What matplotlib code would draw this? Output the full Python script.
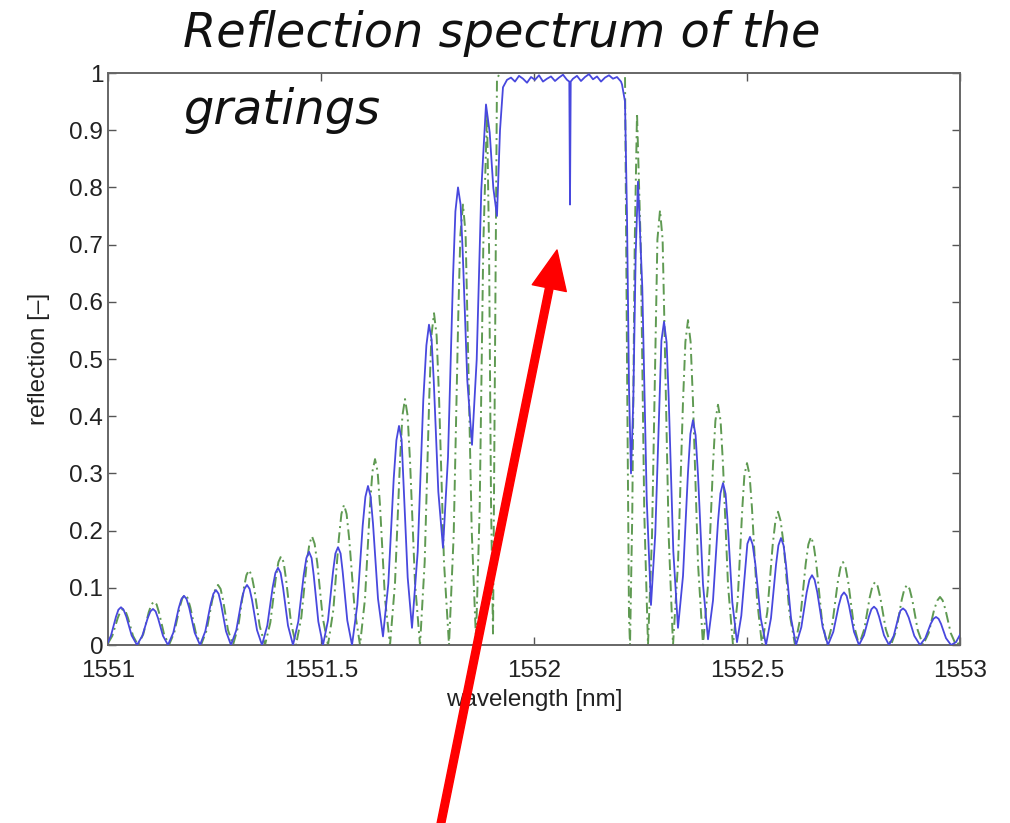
import matplotlib
matplotlib.use("Agg")
import matplotlib.pyplot as plt

# ---------------- data (wavelength in nm, reflection in [-]) ----------------
# measured grating (solid blue) -- one row per side lobe
blue_wl = [
    1551.0000, 1551.0070, 1551.0188, 1551.0244, 1551.0305, 1551.0366, 1551.0430, 1551.0556, 1551.0681,
    1551.0805, 1551.0932, 1551.0995, 1551.1056, 1551.1117, 1551.1174, 1551.1291, 1551.1408,
    1551.1533, 1551.1660, 1551.1723, 1551.1784, 1551.1845, 1551.1908, 1551.2035, 1551.2160,
    1551.2284, 1551.2411, 1551.2474, 1551.2535, 1551.2596, 1551.2653, 1551.2770, 1551.2887,
    1551.3012, 1551.3138, 1551.3202, 1551.3263, 1551.3324, 1551.3380, 1551.3498, 1551.3615,
    1551.3739, 1551.3866, 1551.3930, 1551.3991, 1551.4052, 1551.4108, 1551.4225, 1551.4343,
    1551.4467, 1551.4594, 1551.4657, 1551.4718, 1551.4779, 1551.4829, 1551.4937, 1551.5047,
    1551.5164, 1551.5282, 1551.5338, 1551.5399, 1551.5460, 1551.5509, 1551.5617, 1551.5728,
    1551.5852, 1551.5979, 1551.6042, 1551.6103, 1551.6164, 1551.6221, 1551.6338, 1551.6455,
    1551.6580, 1551.6707, 1551.6770, 1551.6831, 1551.6892, 1551.6930, 1551.7035, 1551.7136,
    1551.7270, 1551.7401, 1551.7474, 1551.7535, 1551.7596, 1551.7646, 1551.7754, 1551.7864,
    1551.7981, 1551.8099, 1551.8155, 1551.8216, 1551.8277, 1551.8326, 1551.8434, 1551.8545,
    1551.8655, 1551.8763, 1551.8873, 1551.8960, 1551.9045, 1551.9131,
    1551.9202, 1551.9272,
    # stop band
    1551.9366, 1551.9460, 1551.9554, 1551.9648, 1551.9742, 1551.9836, 1551.9930,
    1552.0023, 1552.0117, 1552.0211, 1552.0305, 1552.0399, 1552.0493, 1552.0587,
    1552.0681, 1552.0775, 1552.0829, 1552.0845, 1552.0862, 1552.0915, 1552.1009,
    1552.1103, 1552.1197, 1552.1291, 1552.1385, 1552.1479, 1552.1573, 1552.1667,
    1552.1761, 1552.1854, 1552.1948, 1552.2042, 1552.2066, 1552.2136, 1552.2183,
    1552.2230, 1552.2277,
    # right side lobes
    1552.2331, 1552.2387, 1552.2441, 1552.2542, 1552.2646, 1552.2746,
    1552.2847, 1552.2951, 1552.2991, 1552.3052, 1552.3113, 1552.3162, 1552.3270, 1552.3380,
    1552.3498, 1552.3615, 1552.3671, 1552.3732, 1552.3793, 1552.3850, 1552.3967, 1552.4085,
    1552.4202, 1552.4319, 1552.4376, 1552.4437, 1552.4498, 1552.4547, 1552.4655, 1552.4765,
    1552.4866, 1552.4970, 1552.5009, 1552.5070, 1552.5131, 1552.5195, 1552.5322, 1552.5446,
    1552.5563, 1552.5681, 1552.5737, 1552.5798, 1552.5859, 1552.5916, 1552.6033, 1552.6150,
    1552.6275, 1552.6401, 1552.6465, 1552.6526, 1552.6587, 1552.6650, 1552.6777, 1552.6901,
    1552.7026, 1552.7153, 1552.7216, 1552.7277, 1552.7338, 1552.7394, 1552.7512, 1552.7629,
    1552.7746, 1552.7864, 1552.7920, 1552.7981, 1552.8042, 1552.8099, 1552.8216, 1552.8333,
    1552.8444, 1552.8552, 1552.8601, 1552.8662, 1552.8723, 1552.8796, 1552.8927, 1552.9061,
    1552.9185, 1552.9312, 1552.9376, 1552.9437, 1552.9498, 1552.9554, 1552.9671, 1552.9789,
    1552.9906, 1553.0000,
]
blue_r = [
    0.005, 0.0165, 0.0495, 0.0616, 0.066, 0.0616, 0.0495, 0.0165, 0.0,
    0.016, 0.047, 0.0588, 0.063, 0.0588, 0.047, 0.016, 0.0,
    0.0215, 0.0645, 0.0802, 0.086, 0.0802, 0.0645, 0.0215, 0.0,
    0.024, 0.072, 0.0896, 0.096, 0.0896, 0.072, 0.024, 0.0,
    0.026, 0.079, 0.098, 0.105, 0.098, 0.079, 0.026, 0.0,
    0.034, 0.101, 0.126, 0.135, 0.126, 0.101, 0.034, 0.0,
    0.041, 0.122, 0.152, 0.163, 0.152, 0.122, 0.041, 0.0,
    0.043, 0.128, 0.160, 0.171, 0.160, 0.128, 0.043, 0.0,
    0.070, 0.209, 0.259, 0.278, 0.260, 0.212, 0.081, 0.015,
    0.107, 0.291, 0.358, 0.383, 0.359, 0.295, 0.118, 0.030,
    0.163, 0.428, 0.524, 0.560, 0.534, 0.463, 0.268, 0.170,
    0.328, 0.643, 0.758, 0.800, 0.770, 0.688, 0.463, 0.350,
    0.499, 0.796, 0.945, 0.896, 0.799, 0.750,
    0.900, 0.975,
    0.988, 0.992, 0.985, 0.995, 0.990, 0.983, 0.993,
    0.988, 0.996, 0.985, 0.990, 0.994, 0.986, 0.992,
    0.997, 0.988, 0.985, 0.770, 0.985, 0.990, 0.995,
    0.986, 0.993, 0.998, 0.989, 0.994, 0.985, 0.992,
    0.996, 0.990, 0.993, 0.985, 0.980, 0.950, 0.750,
    0.450, 0.300,
    0.428, 0.683, 0.810, 0.625, 0.255, 0.070,
    0.194, 0.441, 0.532, 0.565, 0.529, 0.431, 0.164, 0.030,
    0.121, 0.302, 0.369, 0.393, 0.367, 0.297, 0.106, 0.010,
    0.078, 0.215, 0.265, 0.283, 0.264, 0.213, 0.075, 0.005,
    0.051, 0.143, 0.177, 0.189, 0.176, 0.142, 0.047, 0.0,
    0.047, 0.140, 0.174, 0.187, 0.174, 0.140, 0.047, 0.0,
    0.031, 0.092, 0.114, 0.122, 0.114, 0.092, 0.031, 0.0,
    0.023, 0.069, 0.086, 0.092, 0.086, 0.069, 0.023, 0.0,
    0.017, 0.050, 0.0625, 0.067, 0.0625, 0.050, 0.017, 0.0,
    0.016, 0.048, 0.060, 0.064, 0.060, 0.048, 0.016, 0.0,
    0.012, 0.037, 0.0457, 0.049, 0.0457, 0.037, 0.012, 0.0,
    0.005, 0.018,
]

# designed grating (dash-dot green) -- one row per side lobe
green_wl = [
    1551.0000, 1551.0101, 1551.0228, 1551.0291, 1551.0352, 1551.0413, 1551.0470, 1551.0587, 1551.0704,
    1551.0829, 1551.0955, 1551.1019, 1551.1080, 1551.1141, 1551.1197, 1551.1315, 1551.1432,
    1551.1556, 1551.1683, 1551.1747, 1551.1808, 1551.1869, 1551.1932, 1551.2059, 1551.2183,
    1551.2317, 1551.2448, 1551.2521, 1551.2582, 1551.2643, 1551.2700, 1551.2817, 1551.2934,
    1551.3059, 1551.3185, 1551.3249, 1551.3310, 1551.3371, 1551.3434, 1551.3561, 1551.3685,
    1551.3810, 1551.3937, 1551.4000, 1551.4061, 1551.4122, 1551.4178, 1551.4296, 1551.4413,
    1551.4538, 1551.4664, 1551.4728, 1551.4789, 1551.4850, 1551.4913, 1551.5040, 1551.5164,
    1551.5289, 1551.5416, 1551.5479, 1551.5540, 1551.5601, 1551.5664, 1551.5791, 1551.5916,
    1551.6033, 1551.6150, 1551.6207, 1551.6268, 1551.6329, 1551.6385, 1551.6502, 1551.6620,
    1551.6737, 1551.6855, 1551.6911, 1551.6972, 1551.7033, 1551.7089, 1551.7207, 1551.7324,
    1551.7434, 1551.7542, 1551.7592, 1551.7653, 1551.7714, 1551.7770, 1551.7887, 1551.8005,
    1551.8115, 1551.8223, 1551.8272, 1551.8333, 1551.8394, 1551.8434, 1551.8538, 1551.8638,
    1551.8725, 1551.8810, 1551.8897, 1551.8944, 1551.8991, 1551.9038,
    1551.9085, 1551.9131, 1551.9202,
    1552.2136, 1552.2183, 1552.2230, 1552.2254,
    1552.2307, 1552.2364, 1552.2418, 1552.2505, 1552.2589, 1552.2676,
    1552.2770, 1552.2864, 1552.2897, 1552.2958, 1552.3019, 1552.3059, 1552.3162, 1552.3263,
    1552.3380, 1552.3498, 1552.3554, 1552.3615, 1552.3676, 1552.3732, 1552.3850, 1552.3967,
    1552.4085, 1552.4202, 1552.4258, 1552.4319, 1552.4380, 1552.4437, 1552.4554, 1552.4671,
    1552.4782, 1552.4890, 1552.4939, 1552.5000, 1552.5061, 1552.5117, 1552.5235, 1552.5352,
    1552.5477, 1552.5603, 1552.5667, 1552.5728, 1552.5789, 1552.5862, 1552.5993, 1552.6127,
    1552.6251, 1552.6378, 1552.6441, 1552.6502, 1552.6563, 1552.6627, 1552.6754, 1552.6878,
    1552.7002, 1552.7129, 1552.7193, 1552.7254, 1552.7315, 1552.7378, 1552.7505, 1552.7629,
    1552.7754, 1552.7880, 1552.7944, 1552.8005, 1552.8066, 1552.8129, 1552.8256, 1552.8380,
    1552.8505, 1552.8632, 1552.8695, 1552.8756, 1552.8817, 1552.8880, 1552.9007, 1552.9131,
    1552.9265, 1552.9397, 1552.9470, 1552.9531, 1552.9592, 1552.9655, 1552.9782, 1552.9906,
    1553.0000,
]
green_r = [
    0.003, 0.016, 0.047, 0.0588, 0.063, 0.0588, 0.047, 0.016, 0.0,
    0.019, 0.057, 0.0709, 0.076, 0.0709, 0.057, 0.019, 0.0,
    0.022, 0.066, 0.0821, 0.088, 0.0821, 0.066, 0.022, 0.0,
    0.026, 0.079, 0.098, 0.105, 0.098, 0.079, 0.026, 0.0,
    0.033, 0.098, 0.122, 0.131, 0.122, 0.098, 0.033, 0.0,
    0.039, 0.116, 0.145, 0.155, 0.145, 0.116, 0.039, 0.0,
    0.048, 0.143, 0.177, 0.190, 0.177, 0.143, 0.048, 0.0,
    0.061, 0.184, 0.229, 0.245, 0.229, 0.184, 0.061, 0.0,
    0.081, 0.244, 0.303, 0.325, 0.303, 0.244, 0.081, 0.0,
    0.108, 0.323, 0.401, 0.430, 0.401, 0.323, 0.108, 0.0,
    0.145, 0.435, 0.541, 0.580, 0.541, 0.435, 0.145, 0.0,
    0.193, 0.578, 0.718, 0.770, 0.719, 0.580, 0.200, 0.010,
    0.240, 0.700, 0.930, 0.700, 0.250, 0.020,
    0.500, 0.990, 1.000,
    1.000, 0.500, 0.050, 0.000,
    0.230, 0.700, 0.930, 0.700, 0.230, 0.0,
    0.190, 0.570, 0.709, 0.760, 0.709, 0.570, 0.190, 0.0,
    0.142, 0.426, 0.530, 0.568, 0.530, 0.426, 0.142, 0.0,
    0.105, 0.315, 0.392, 0.420, 0.392, 0.315, 0.105, 0.0,
    0.080, 0.239, 0.297, 0.318, 0.297, 0.239, 0.080, 0.0,
    0.058, 0.175, 0.217, 0.233, 0.217, 0.175, 0.058, 0.0,
    0.047, 0.142, 0.176, 0.189, 0.176, 0.142, 0.047, 0.0,
    0.036, 0.109, 0.135, 0.145, 0.135, 0.109, 0.036, 0.0,
    0.028, 0.083, 0.103, 0.110, 0.103, 0.083, 0.028, 0.0,
    0.026, 0.079, 0.098, 0.105, 0.098, 0.079, 0.026, 0.0,
    0.021, 0.063, 0.078, 0.084, 0.078, 0.063, 0.021, 0.0,
    0.005,
]

x_ticks = [1551, 1551.5, 1552, 1552.5, 1553]
x_ticklabels = ["1551", "1551.5", "1552", "1552.5", "1553"]
y_ticks = [0, 0.1, 0.2, 0.3, 0.4, 0.5, 0.6, 0.7, 0.8, 0.9, 1.0]
y_ticklabels = ["0", "0.1", "0.2", "0.3", "0.4", "0.5", "0.6", "0.7", "0.8", "0.9", "1"]

title_line1 = "Reflection spectrum of the"
title_line2 = "gratings"
x_label = "wavelength [nm]"
y_label = "reflection [\u2013]"

# ---------------- figure ----------------
W, H = 1010, 823
fig = plt.figure(figsize=(W / 100, H / 100), dpi=100)
fig.patch.set_facecolor("white")

ax = fig.add_axes([108 / W, 1 - 645 / H, (960 - 108) / W, (645 - 73) / H])

ax.plot(green_wl, green_r, color="#5f9a52", lw=1.4,
        linestyle=(0, (5.5, 2.2, 1.0, 2.2)), zorder=2)
ax.plot(blue_wl, blue_r, color="#4848de", lw=1.3, zorder=3)

ax.set_xlim(1551, 1553)
ax.set_ylim(0, 1)
ax.set_xticks(x_ticks)
ax.set_xticklabels(x_ticklabels)
ax.set_yticks(y_ticks)
ax.set_yticklabels(y_ticklabels)

for lab in ax.get_xticklabels() + ax.get_yticklabels():
    lab.set_fontfamily("Liberation Sans")
    lab.set_fontsize(17.5)
    lab.set_color("#222222")

ax.tick_params(direction="in", length=6, width=1.0, color="#555555",
               top=True, right=True)
ax.tick_params(axis="x", pad=10.5)
ax.tick_params(axis="y", pad=3.5)
for s in ax.spines.values():
    s.set_color("#666666")
    s.set_linewidth(1.4)

ax.set_xlabel(x_label, fontfamily="Liberation Sans", fontsize=17.5,
              color="#222222", va="center")
ax.xaxis.set_label_coords(0.5, (645 - 700) / 572)
ax.set_ylabel(y_label, fontfamily="Liberation Sans", fontsize=17.5,
              color="#222222", va="center")
ax.yaxis.set_label_coords((39 - 108) / 852, 0.5)

# title split over two lines, drawn on top of the axes
fig.text(183 / W, 1 - 47 / H, title_line1, fontfamily="DejaVu Sans",
         style="oblique", fontsize=34.5, color="#111111", ha="left",
         va="baseline", zorder=10)
fig.text(183 / W, 1 - 124 / H, title_line2, fontfamily="DejaVu Sans",
         style="oblique", fontsize=34.5, color="#111111", ha="left",
         va="baseline", zorder=10)

# red pointer arrow
ax.annotate("", xy=(557, H - 250), xycoords="figure pixels",
            xytext=(440, -5), textcoords="figure pixels",
            arrowprops=dict(facecolor="#ff0000", edgecolor="#ff0000",
                            width=5.5, headwidth=25, headlength=28,
                            shrink=0.0),
            annotation_clip=False, zorder=20)

fig.savefig("out.png", dpi=100, facecolor="white")
